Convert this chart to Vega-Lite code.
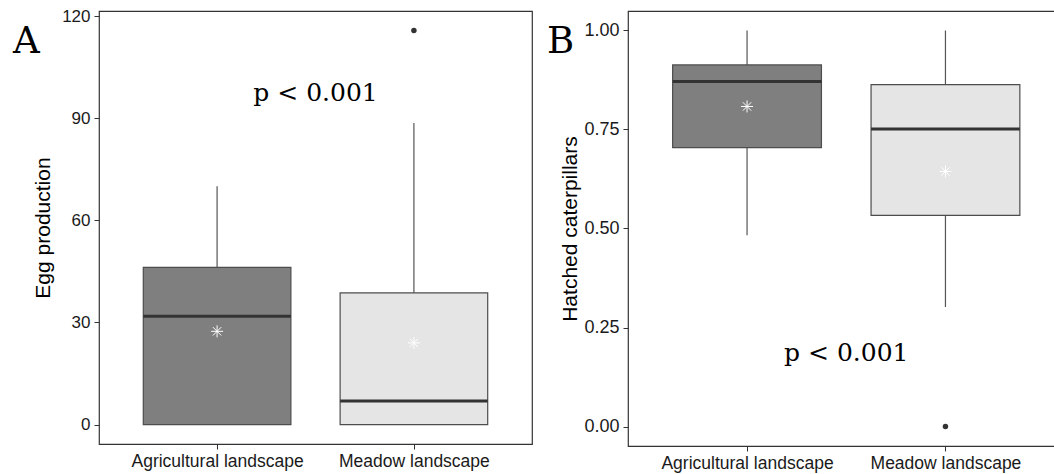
{
  "$schema": "https://vega.github.io/schema/vega-lite/v6.json",
  "background": "white",
  "padding": {"left": 12, "top": 6, "right": 0, "bottom": 0},
  "bounds": "flush",
  "spacing": 96,
  "datasets": {
    "eggs": [
      {"landscape": "Agricultural landscape", "lower": 0, "q1": 0, "median": 31.8, "q3": 46.2, "upper": 70, "mean": 27.4},
      {"landscape": "Meadow landscape", "lower": 0, "q1": 0, "median": 6.9, "q3": 38.7, "upper": 88.6, "mean": 24}
    ],
    "egg_out": [{"landscape": "Meadow landscape", "value": 115.8}],
    "hatch": [
      {"landscape": "Agricultural landscape", "lower": 0.483, "q1": 0.704, "median": 0.871, "q3": 0.913, "upper": 1.0, "mean": 0.808},
      {"landscape": "Meadow landscape", "lower": 0.302, "q1": 0.533, "median": 0.751, "q3": 0.863, "upper": 1.0, "mean": 0.644}
    ],
    "hatch_out": [{"landscape": "Meadow landscape", "value": 0}],
    "ptext": [{"label": "p < 0.001"}]
  },
  "config": {
    "view": {"stroke": "#333333", "strokeWidth": 1.2},
    "axis": {
      "grid": false,
      "domain": false,
      "tickColor": "#333333",
      "tickSize": 5,
      "labelColor": "#1a1a1a",
      "labelFont": "Liberation Sans",
      "titleFont": "Liberation Sans",
      "titleFontWeight": "normal",
      "titleColor": "#000000"
    }
  },
  "hconcat": [
    {
      "width": 433,
      "height": 433,
      "title": {"text": "A", "anchor": "start", "frame": "group", "orient": "none", "offset": 0, "dx": -86, "dy": 42, "baseline": "alphabetic", "font": "DejaVu Serif", "fontSize": 37, "fontWeight": "normal", "color": "#000000"},
      "layer": [
        {
          "data": {"name": "eggs"},
          "mark": {"type": "rule", "color": "#555555", "strokeWidth": 1.2},
          "encoding": {
            "x": {"field": "landscape", "type": "nominal", "scale": {"type": "point", "padding": 0.6, "domain": ["Agricultural landscape", "Meadow landscape"]}, "axis": {"title": null, "labelAngle": 0, "labelFontSize": 17.5, "labelPadding": 3}},
            "y": {"field": "lower", "type": "quantitative", "scale": {"domain": [-5.7, 121.5], "nice": false, "zero": false}, "axis": {"title": "Egg production", "values": [0, 30, 60, 90, 120], "labelFontSize": 17, "titleFontSize": 21, "labelPadding": 4, "titlePadding": 8}},
            "y2": {"field": "upper"}
          }
        },
        {
          "data": {"name": "eggs"},
          "mark": {"type": "bar", "size": 147.6, "stroke": "#4d4d4d", "strokeWidth": 1.2, "opacity": 1},
          "encoding": {
            "x": {"field": "landscape", "type": "nominal"},
            "y": {"field": "q1", "type": "quantitative"},
            "y2": {"field": "q3"},
            "fill": {"field": "landscape", "type": "nominal", "scale": {"domain": ["Agricultural landscape", "Meadow landscape"], "range": ["#7f7f7f", "#e5e5e5"]}, "legend": null}
          }
        },
        {
          "data": {"name": "eggs"},
          "mark": {"type": "tick", "orient": "horizontal", "size": 147.6, "thickness": 3, "color": "#333333", "opacity": 1},
          "encoding": {
            "x": {"field": "landscape", "type": "nominal"},
            "y": {"field": "median", "type": "quantitative"}
          }
        },
        {
          "data": {"name": "eggs"},
          "mark": {"type": "point", "shape": "M-1,0L1,0M0,-1L0,1M-0.7,-0.7L0.7,0.7M-0.7,0.7L0.7,-0.7", "filled": false, "stroke": "white", "strokeWidth": 1, "size": 144, "opacity": 1},
          "encoding": {
            "x": {"field": "landscape", "type": "nominal"},
            "y": {"field": "mean", "type": "quantitative"}
          }
        },
        {
          "data": {"name": "egg_out"},
          "mark": {"type": "point", "filled": true, "color": "#333333", "size": 30, "opacity": 1},
          "encoding": {
            "x": {"field": "landscape", "type": "nominal"},
            "y": {"field": "value", "type": "quantitative"}
          }
        },
        {
          "data": {"name": "ptext"},
          "mark": {"type": "text", "font": "DejaVu Serif", "fontSize": 25, "baseline": "alphabetic", "align": "center", "color": "#000000"},
          "encoding": {
            "text": {"field": "label"},
            "y": {"datum": 95, "type": "quantitative"}
          }
        }
      ]
    },
    {
      "width": 436.5,
      "height": 435,
      "title": {"text": "B", "anchor": "start", "frame": "group", "orient": "none", "offset": 0, "dx": -81, "dy": 42, "baseline": "alphabetic", "font": "DejaVu Serif", "fontSize": 37, "fontWeight": "normal", "color": "#000000"},
      "layer": [
        {
          "data": {"name": "hatch"},
          "mark": {"type": "rule", "color": "#555555", "strokeWidth": 1.2},
          "encoding": {
            "x": {"field": "landscape", "type": "nominal", "scale": {"type": "point", "padding": 0.6, "domain": ["Agricultural landscape", "Meadow landscape"]}, "axis": {"title": null, "labelAngle": 0, "labelFontSize": 17.5, "labelPadding": 3}},
            "y": {"field": "lower", "type": "quantitative", "scale": {"domain": [-0.049, 1.049], "nice": false, "zero": false}, "axis": {"title": "Hatched caterpillars", "values": [0, 0.25, 0.5, 0.75, 1], "format": ".2f", "labelFontSize": 18, "titleFontSize": 21, "labelPadding": 4, "titlePadding": 3}},
            "y2": {"field": "upper"}
          }
        },
        {
          "data": {"name": "hatch"},
          "mark": {"type": "bar", "size": 148.8, "stroke": "#4d4d4d", "strokeWidth": 1.2, "opacity": 1},
          "encoding": {
            "x": {"field": "landscape", "type": "nominal"},
            "y": {"field": "q1", "type": "quantitative"},
            "y2": {"field": "q3"},
            "fill": {"field": "landscape", "type": "nominal", "scale": {"domain": ["Agricultural landscape", "Meadow landscape"], "range": ["#7f7f7f", "#e5e5e5"]}, "legend": null}
          }
        },
        {
          "data": {"name": "hatch"},
          "mark": {"type": "tick", "orient": "horizontal", "size": 148.8, "thickness": 3, "color": "#333333", "opacity": 1},
          "encoding": {
            "x": {"field": "landscape", "type": "nominal"},
            "y": {"field": "median", "type": "quantitative"}
          }
        },
        {
          "data": {"name": "hatch"},
          "mark": {"type": "point", "shape": "M-1,0L1,0M0,-1L0,1M-0.7,-0.7L0.7,0.7M-0.7,0.7L0.7,-0.7", "filled": false, "stroke": "white", "strokeWidth": 1, "size": 144, "opacity": 1},
          "encoding": {
            "x": {"field": "landscape", "type": "nominal"},
            "y": {"field": "mean", "type": "quantitative"}
          }
        },
        {
          "data": {"name": "hatch_out"},
          "mark": {"type": "point", "filled": true, "color": "#333333", "size": 30, "opacity": 1},
          "encoding": {
            "x": {"field": "landscape", "type": "nominal"},
            "y": {"field": "value", "type": "quantitative"}
          }
        },
        {
          "data": {"name": "ptext"},
          "mark": {"type": "text", "font": "DejaVu Serif", "fontSize": 25, "baseline": "alphabetic", "align": "center", "color": "#000000"},
          "encoding": {
            "text": {"field": "label"},
            "y": {"datum": 0.166, "type": "quantitative"}
          }
        }
      ]
    }
  ]
}
